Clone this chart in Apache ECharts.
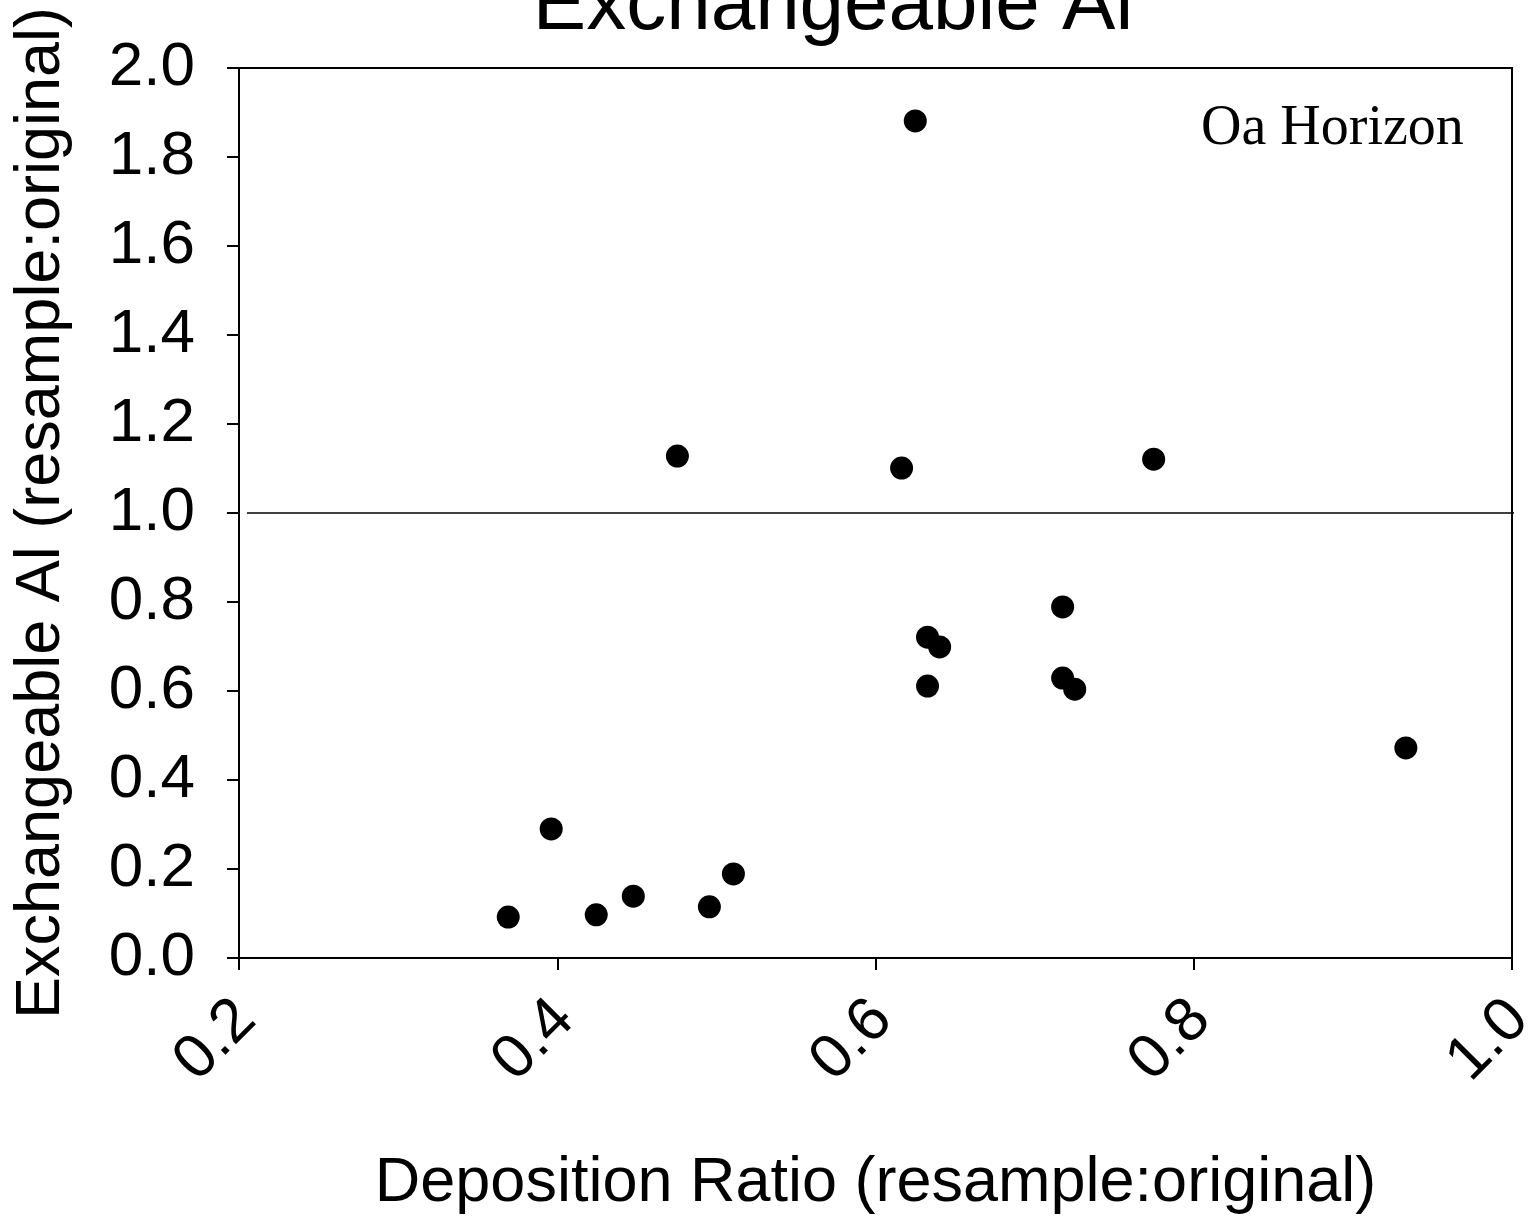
<!DOCTYPE html>
<html>
<head>
<meta charset="utf-8">
<script src="https://cdn.jsdelivr.net/npm/echarts@6/dist/echarts.min.js"></script>
<style>
  html, body { margin: 0; padding: 0; background: #fff; }
  #main { width: 1535px; height: 1219px; }
</style>
</head>
<body>
<div id="main"></div>
<script>
// deposition ratio (x) vs exchangeable Al ratio (y), Oa horizon
var depRatio = [0.625, 0.4755, 0.6164, 0.7748, 0.7176, 0.6327, 0.6403, 0.6327, 0.7176, 0.7252,
                0.9333, 0.3962, 0.3692, 0.4245, 0.4478, 0.4956, 0.5107];
var alRatio  = [1.881, 1.128, 1.101, 1.121, 0.789, 0.721, 0.699, 0.611, 0.629, 0.604,
                0.472, 0.290, 0.092, 0.097, 0.139, 0.115, 0.189];
// 1:1 reference line
var refX = [0.205, 1.006];
var refY = [1, 1];

var points = depRatio.map(function (x, i) { return [x, alRatio[i]]; });
var refLine = refX.map(function (x, i) { return [x, refY[i]]; });

var FONT = 'Liberation Sans, Arial, sans-serif';

var chart = echarts.init(document.getElementById('main'));
chart.setOption({
    animation: false,
    backgroundColor: '#fff',
    title: [{
        text: 'Exchangeable Al',
        left: 828,
        textAlign: 'center',
        top: -38,
        textStyle: { fontFamily: FONT, fontSize: 80, fontWeight: 'normal', color: '#000' }
    }, {
        text: 'Oa Horizon',
        left: 1196,
        top: 96,
        textStyle: { fontFamily: 'Liberation Serif, Times New Roman, serif', fontSize: 56, fontWeight: 'normal', color: '#000' }
    }],
    grid: {
        left: 239, right: 23, top: 68, bottom: 261,
        show: true, borderColor: '#000', borderWidth: 2,
        containLabel: false, outerBoundsMode: 'none'
    },
    xAxis: {
        type: 'value', min: 0.2, max: 1.0, interval: 0.2,
        name: 'Deposition Ratio (resample:original)',
        nameLocation: 'middle', nameGap: 194, nameMoveOverlap: false,
        nameTextStyle: { fontFamily: FONT, fontSize: 63, color: '#000' },
        axisLine: { show: true, onZero: false, lineStyle: { color: '#000', width: 2 } },
        axisTick: { show: true, length: 12, lineStyle: { color: '#000', width: 2 } },
        axisLabel: {
            rotate: 45, margin: 45, verticalAlign: 'top', lineHeight: 20,
            fontFamily: FONT, fontSize: 62, color: '#000',
            formatter: function (v) { return v.toFixed(1); }
        },
        splitLine: { show: false }
    },
    yAxis: {
        type: 'value', min: 0, max: 2.0, interval: 0.2,
        name: 'Exchangeable Al (resample:original)',
        nameLocation: 'middle', nameGap: 166, nameMoveOverlap: false,
        nameTextStyle: { fontFamily: FONT, fontSize: 63, color: '#000' },
        axisLine: { show: true, lineStyle: { color: '#000', width: 2 } },
        axisTick: { show: true, length: 12, lineStyle: { color: '#000', width: 2 } },
        axisLabel: {
            margin: 44, fontFamily: FONT, fontSize: 62, color: '#000',
            formatter: function (v) { return v.toFixed(1); }
        },
        splitLine: { show: false }
    },
    series: [{
        type: 'line',
        data: refLine,
        clip: false,
        symbol: 'none',
        silent: true,
        lineStyle: { color: '#000', width: 1.5 },
        z: 1
    }, {
        type: 'scatter',
        data: points,
        symbol: 'circle',
        symbolSize: 23,
        itemStyle: { color: '#000', opacity: 1 },
        z: 3
    }]
});
</script>
</body>
</html>
